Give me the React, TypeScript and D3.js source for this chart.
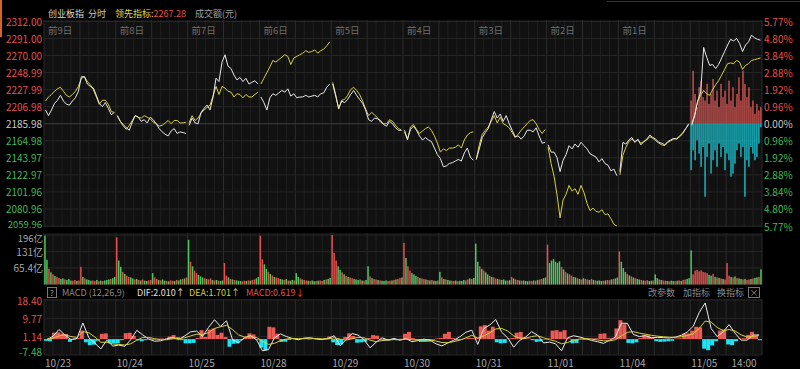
import * as d3 from 'd3';

// ---- axis / label data ----
const BASE = 2185.98;
const priceTicks = [2312.0, 2291.0, 2270.0, 2248.99, 2227.99, 2206.98, 2185.98, 2164.98, 2143.97, 2122.97, 2101.96, 2080.96, 2059.96];
const pctTicks = [5.77, 4.8, 3.84, 2.88, 1.92, 0.96, 0, -0.96, -1.92, -2.88, -3.84, -4.8, -5.77];
const dayLabels = ['前9日', '前8日', '前7日', '前6日', '前5日', '前4日', '前3日', '前2日', '前1日'];
const dateLabels = ['10/23', '10/24', '10/25', '10/28', '10/29', '10/30', '10/31', '11/01', '11/04', '11/05'];
const volTicks = [196, 131, 65.4];
const volTickLabels = ['196亿', '131亿', '65.4亿'];
const macdTicks = [18.4, 9.77, 1.14, -7.48];

// ---- index (white) and leading indicator (yellow), 24 samples per day ----
const indexByDay = [
  [2203, 2196, 2203, 2211, 2215, 2221, 2214, 2210, 2209, 2214, 2218, 2226, 2244, 2244, 2235, 2232, 2230, 2221, 2211, 2207, 2212, 2205, 2197, 2200],
  [2196, 2189, 2185, 2181, 2178, 2188, 2196, 2194, 2189, 2191, 2187, 2194, 2191, 2186, 2180, 2176, 2173, 2171, 2177, 2180, 2174, 2176, 2175, 2174],
  [2184, 2193, 2187, 2186, 2200, 2205, 2209, 2203, 2219, 2242, 2238, 2262, 2271, 2257, 2254, 2246, 2240, 2243, 2238, 2242, 2235, 2237, 2239, 2235],
  [2219, 2212, 2203, 2218, 2223, 2221, 2224, 2227, 2225, 2229, 2220, 2223, 2218, 2219, 2219, 2221, 2219, 2220, 2221, 2219, 2223, 2224, 2231, 2235],
  [2235, 2220, 2205, 2214, 2212, 2216, 2222, 2227, 2221, 2216, 2211, 2203, 2191, 2189, 2193, 2192, 2190, 2185, 2183, 2189, 2186, 2181, 2178, 2178],
  [2178, 2167, 2179, 2183, 2178, 2171, 2166, 2169, 2166, 2164, 2156, 2148, 2143, 2133, 2134, 2137, 2138, 2140, 2142, 2140, 2150, 2156, 2145, 2141],
  [2142, 2155, 2169, 2175, 2180, 2191, 2201, 2193, 2198, 2189, 2196, 2186, 2178, 2170, 2171, 2167, 2171, 2178, 2178, 2176, 2181, 2171, 2162, 2163],
  [2160, 2151, 2151, 2144, 2127, 2141, 2148, 2159, 2155, 2161, 2157, 2163, 2159, 2155, 2149, 2147, 2145, 2139, 2143, 2137, 2135, 2128, 2130, 2122],
  [2127, 2163, 2161, 2166, 2169, 2163, 2167, 2160, 2164, 2167, 2172, 2169, 2167, 2163, 2162, 2160, 2164, 2166, 2168, 2167, 2170, 2174, 2180, 2186],
  [2184, 2196, 2214, 2225, 2280, 2268, 2258, 2259, 2254, 2259, 2267, 2275, 2283, 2290, 2288, 2291, 2285, 2275, 2283, 2287, 2295, 2292, 2290, 2289],
];
const leadByDay = [
  [2214, 2219, 2222, 2226, 2229, 2231, 2226, 2221, 2219, 2222, 2226, 2232, 2242, 2244, 2238, 2234, 2228, 2219, 2210, 2215, 2215, 2210, 2201, 2200],
  [2196, 2189, 2183, 2179, 2184, 2190, 2196, 2194, 2193, 2196, 2194, 2192, 2188, 2186, 2183, 2184, 2187, 2190, 2186, 2190, 2190, 2187, 2187, 2188],
  [2187, 2196, 2190, 2193, 2199, 2203, 2206, 2209, 2220, 2232, 2222, 2232, 2230, 2226, 2225, 2219, 2223, 2222, 2218, 2222, 2219, 2219, 2222, 2225],
  [2235, 2242, 2249, 2256, 2264, 2262, 2265, 2268, 2271, 2269, 2259, 2267, 2269, 2271, 2273, 2276, 2274, 2275, 2277, 2273, 2276, 2278, 2282, 2287],
  [2237, 2222, 2204, 2215, 2216, 2221, 2228, 2231, 2227, 2222, 2214, 2204, 2196, 2200, 2197, 2193, 2188, 2186, 2186, 2191, 2189, 2184, 2180, 2178],
  [2176, 2166, 2182, 2185, 2179, 2174, 2177, 2180, 2182, 2178, 2171, 2162, 2151, 2155, 2153, 2156, 2156, 2157, 2160, 2156, 2166, 2172, 2175, 2176],
  [2142, 2160, 2173, 2178, 2182, 2189, 2196, 2187, 2194, 2186, 2184, 2181, 2175, 2169, 2173, 2178, 2182, 2186, 2190, 2191, 2186, 2179, 2174, 2179],
  [2157, 2137, 2121, 2098, 2070, 2092, 2099, 2110, 2103, 2106, 2099, 2110, 2101, 2088, 2079, 2082, 2078, 2077, 2080, 2074, 2075, 2069, 2062, 2060],
  [2123, 2147, 2157, 2164, 2167, 2164, 2166, 2162, 2164, 2166, 2170, 2168, 2165, 2162, 2160, 2159, 2163, 2165, 2167, 2168, 2171, 2175, 2180, 2185],
  [2186, 2197, 2214, 2221, 2227, 2223, 2221, 2228, 2234, 2239, 2246, 2253, 2260, 2261, 2260, 2264, 2262, 2253, 2258, 2260, 2264, 2265, 2266, 2267],
];

// ---- today's red / cyan strength bars (percent, 36 each) ----
const buyPct = [1.31, 2.99, 1.68, 0.94, 2.06, 2.43, 1.5, 1.31, 2.25, 1.12, 1.68, 2.53, 1.31, 1.87, 0.94, 2.25, 1.5, 1.87, 1.12, 2.43, 1.31, 2.06, 0.94, 1.68, 2.62, 1.31, 2.99, 2.25, 1.5, 2.06, 0.94, 1.31, 0.56, 1.12, 0.75, 0.94];
const sellPct = [2.62, 1.5, 2.06, 0.94, 1.68, 2.43, 1.31, 4.12, 1.87, 1.12, 2.81, 2.06, 1.5, 2.43, 1.12, 1.87, 1.31, 2.62, 1.68, 2.06, 2.99, 2.81, 2.25, 1.5, 1.12, 1.87, 1.31, 4.12, 2.06, 2.43, 1.31, 1.68, 2.06, 1.87, 1.12, 0.19];

// ---- turnover (亿), 36 bars per day, and up/down side ----
const volumeByDay = [
  [193, 98, 62, 48, 40, 34, 30, 26, 22, 24, 20, 18, 22, 16, 15, 18, 14, 16, 70, 30, 24, 20, 18, 15, 16, 14, 18, 13, 15, 14, 16, 18, 20, 22, 25, 30],
  [187, 95, 70, 50, 42, 35, 30, 28, 24, 20, 22, 18, 16, 20, 15, 14, 16, 18, 45, 28, 22, 18, 16, 20, 15, 14, 13, 16, 15, 14, 18, 16, 20, 22, 24, 28],
  [177, 90, 72, 55, 45, 38, 32, 28, 25, 22, 20, 24, 18, 16, 18, 15, 14, 16, 85, 35, 28, 22, 20, 18, 16, 15, 14, 13, 15, 14, 16, 15, 18, 20, 24, 30],
  [193, 100, 80, 62, 50, 42, 36, 30, 28, 25, 22, 20, 18, 22, 16, 15, 18, 16, 45, 30, 24, 20, 18, 16, 15, 14, 16, 13, 14, 15, 16, 14, 18, 20, 22, 26],
  [196, 125, 95, 72, 58, 48, 40, 34, 30, 28, 25, 22, 20, 18, 20, 16, 15, 18, 72, 32, 25, 22, 20, 18, 16, 15, 14, 16, 14, 15, 16, 18, 20, 22, 26, 28],
  [165, 105, 72, 55, 45, 40, 34, 30, 26, 24, 22, 20, 18, 16, 18, 15, 14, 16, 50, 28, 22, 20, 18, 16, 15, 14, 16, 13, 15, 14, 18, 16, 20, 24, 22, 26],
  [162, 90, 72, 62, 55, 48, 40, 34, 30, 28, 24, 22, 20, 18, 20, 16, 15, 17, 30, 24, 20, 18, 16, 15, 16, 14, 13, 15, 14, 16, 15, 18, 20, 22, 25, 28],
  [158, 85, 95, 100, 90, 85, 92, 70, 60, 50, 44, 40, 35, 30, 28, 25, 22, 20, 25, 22, 20, 18, 22, 18, 16, 15, 16, 14, 15, 16, 18, 17, 20, 22, 24, 28],
  [131, 90, 65, 50, 42, 36, 32, 28, 25, 22, 20, 18, 16, 15, 17, 14, 15, 16, 40, 25, 20, 18, 16, 15, 14, 13, 15, 14, 13, 15, 16, 14, 18, 20, 22, 25],
  [135, 40, 55, 58, 52, 56, 50, 48, 45, 38, 35, 42, 30, 28, 26, 24, 22, 20, 85, 35, 30, 28, 32, 26, 24, 22, 20, 22, 18, 20, 22, 24, 26, 28, 30, 60],
];
const volumeSide = [
  'ggrgrgrrggrgggrrgr' + 'rgrgggrrgrgrgggrgg',
  'rggrgrrggrgrgrggrr' + 'grrgrggrgrrgrggrgr',
  'grgrrgggrgrrgrgrgg' + 'rrgrgrgggrrgrgrrgg',
  'rrggrgrgrrggrgrggr' + 'ggrgrrgrggrgrrgrgg',
  'rrrggrgrgrrgggrgrg' + 'grgrrgrgggrrgrgrrg',
  'rgrrgggrgrrgrgrggr' + 'grgrggrrgrgggrrgrg',
  'ggrgrggrgrrgrgggrg' + 'rgrrgrgggrrgrgrrgg',
  'rggggggrgrgrrggrgr' + 'grrgrgrgggrgrrgrgg',
  'rgggrgrgrggrgrrggr' + 'ggrgrrgrggrgrgrrgg',
  'grrrrrrrrggrgrgrgr' + 'rrgrgrggrgrrgrggrg',
];

// ---- MACD: DIF / DEA (12 per day) and histogram (18 per day) ----
const dif = [
  -0.2, 1.3, 4.5, 1.9, -0.2, 0.3, 7.6, 0.6, -1.9, -4.6, -0.5, -3.3,
  -2.8, -3.4, -0.3, 4.1, 2.0, 0.0, -1.0, -0.8, 0.2, 0.8, -0.2, 1.5,
  3.4, 3.8, 1.3, 5.5, 9.1, 6.0, 8.6, -0.2, -1.7, 0.6, 1.7, -0.2,
  -5.5, -5.0, 0.5, 2.5, 1.2, 0.3, -0.3, 0.5, 0.6, 0.0, -0.2, 0.3,
  1.6, -3.0, -0.2, 2.6, 1.9, -0.3, -4.1, -1.5, 0.6, -0.4, 0.3, -0.5,
  0.2, -1.2, -0.7, 0.0, -0.5, -2.2, -3.2, -1.8, -0.5, 1.1, 3.2, 4.2,
  -2.5, 5.0, 6.6, 9.2, 3.2, 0.6, -3.8, -0.6, 1.0, 3.5, 1.8, -1.8,
  -1.4, -2.2, -5.5, 0.6, 1.6, 1.0, 0.2, -0.6, -1.2, -2.0, -0.6, 1.0,
  7.5, 7.4, 2.2, 1.2, 1.6, 0.6, 0.8, 0.7, 0.5, 0.9, 1.8, 3.3,
  6.0, 12.5, 17.0, 5.0, 1.2, 3.4, 6.8, 2.8, -0.5, -0.5, 1.9, 2.0,
];
const dea = [
  0.0, 0.4, 1.5, 2.0, 1.2, 0.8, 3.5, 3.0, 1.0, -1.5, -1.5, -2.3,
  -2.5, -2.8, -2.2, -0.5, 0.8, 0.8, 0.2, -0.3, -0.3, 0.2, 0.3, 0.6,
  1.5, 2.3, 2.2, 3.0, 5.0, 5.8, 6.5, 4.5, 2.0, 1.0, 1.0, 0.8,
  -1.0, -2.5, -2.0, -0.8, 0.0, 0.3, 0.2, 0.2, 0.4, 0.3, 0.1, 0.1,
  0.6, 0.0, -0.5, 0.2, 0.8, 0.6, -0.5, -1.2, -0.7, -0.5, -0.2, -0.3,
  0.0, -0.3, -0.5, -0.4, -0.4, -0.9, -1.6, -1.7, -1.2, -0.5, 0.6, 1.8,
  0.5, 1.5, 3.0, 4.8, 5.0, 3.8, 1.5, 0.5, 0.4, 1.2, 1.6, 0.6,
  -0.3, -1.0, -2.2, -1.6, -0.6, 0.0, 0.2, 0.0, -0.4, -0.8, -0.8, -0.3,
  1.5, 3.2, 3.5, 2.8, 2.3, 1.8, 1.4, 1.1, 0.9, 0.9, 1.1, 1.7,
  2.5, 5.0, 8.5, 8.0, 5.5, 4.0, 4.5, 3.8, 2.0, 1.0, 1.3, 1.7,
];
const macdHist = [
  -0.8, -1.0, 3.0, 3.2, 2.6, 2.4, -1.3, -0.3, 0.5, 4.0, -1.5, -2.8, -2.6, -0.8, 2.5, 2.7, -1.8, -2.0,
  -2.0, -0.5, 2.8, 3.0, 1.5, -0.6, -1.0, -0.5, 0.3, -0.3, 0.2, 0.3, -0.2, 1.2, 1.9, 1.0, -0.5, -2.0,
  -2.0, -1.8, 0.5, 4.2, 1.0, 4.5, 5.0, 2.0, 3.0, 1.0, -3.6, -2.2, -2.0, -0.5, 0.8, 2.7, 2.2, -0.3,
  -4.0, -5.2, 5.8, 5.5, 2.5, -1.3, -1.2, -0.4, 0.3, -0.3, 0.2, 0.4, -0.2, 0.3, 0.2, -0.3, 0.4, 1.2,
  -1.5, -2.8, -2.5, 1.0, 2.7, 1.5, -1.7, -1.5, -1.2, 0.5, 1.9, 1.6, -0.3, -0.5, -0.5, -0.4, -0.5, 0.2,
  2.5, 3.4, 0.5, -0.4, -1.3, -1.3, -1.2, -0.3, 0.3, 0.5, 2.5, 3.4, 0.5, -0.5, -0.4, 0.3, 0.6, 0.4,
  0.5, 6.0, 6.6, 4.0, 5.8, -1.5, -2.0, -1.8, 0.3, 0.5, 3.0, 3.4, 0.8, 0.3, -0.5, -1.3, -1.1, -0.2,
  0.3, 4.0, 4.2, 3.5, 4.2, 0.4, -2.0, -1.8, 0.2, -0.3, 0.2, 0.3, 0.4, 2.5, 2.7, 0.5, 0.3, 5.0,
  8.9, 7.0, -1.8, -2.0, -1.5, 0.5, 1.9, 1.8, 0.8, -1.0, -1.3, -1.2, -1.0, -0.8, 0.3, 0.4, 2.5, 2.7,
  4.0, 5.8, 5.5, -4.5, -5.2, -3.0, -1.0, 4.0, 4.5, -2.5, -2.8, -1.0, 0.3, 0.4, 2.0, 3.4, 1.5, -0.5,
];

const RED = '#e5504c';
const GREEN = '#3dbb5a';
const FONT = "'Noto Sans CJK SC', 'Noto Sans', sans-serif";

export default function App() {
  const W = 800, H = 369;
  const L = 44, R = 762;
  const x = d3.scaleLinear().domain([0, 10]).range([L, R]);
  const yPrice = d3.scaleLinear().domain([2059.96, 2312]).range([226, 21.5]);
  const yPct = d3.scaleLinear().domain([-5.77, 5.77]).range([226, 21.5]);
  const yVol = d3.scaleLinear().domain([0, 196]).range([284.5, 235]);
  const yMacd = d3.scaleLinear().domain([-7.48, 18.4]).range([355, 300]);

  const dayLine = d3.line<number>()
    .x((_, k) => x((k + 0.5) / 24))
    .y(v => yPrice(v));
  const macdLine = d3.line<number>()
    .x((_, i) => x((i + 0.5) / 12))
    .y(v => yMacd(v));

  const vGrid = d3.range(0, 81).map(i => ({ t: i / 8, major: i % 4 === 0 }));
  const tickColor = (v: number) => (v > BASE + 0.001 ? RED : v < BASE - 0.001 ? GREEN : '#c8c8c8');
  const pctColor = (v: number) => (v > 0 ? RED : v < 0 ? GREEN : '#c8c8c8');

  const grid = (y0: number, y1: number) =>
    vGrid.map((g, i) => (
      <line key={i} x1={x(g.t)} x2={x(g.t)} y1={y0} y2={y1}
        stroke={g.major ? '#2c2c2c' : '#1f1f1f'} strokeWidth={1} />
    ));

  const volW = x(1 / 36) - x(0);
  const strW = x(1 / 36) - x(0);
  const histW = x(1 / 18) - x(0);

  return (
    <svg width={W} height={H} style={{ position: 'absolute', left: 0, top: 0, background: '#000' }}
      fontFamily={FONT}>
      <rect x={0} y={0} width={W} height={H} fill="#000" />
      <rect x={0} y={0} width={2} height={37} fill="#d8602c" />
      <line x1={607} x2={800} y1={1.5} y2={1.5} stroke="#333" />

      {/* header */}
      <g fontSize={9} dominantBaseline="central">
        <text x={48} y={13} fill="#d8d8c0">创业板指</text>
        <text x={88} y={13} fill="#c8c8c8">分时</text>
        <text x={115} y={13} fill="#e0dc4a">领先指标:<tspan fill={RED}>2267.28</tspan></text>
        <text x={195} y={13} fill="#a0a0a0">成交额(元)</text>
      </g>

      {/* main panel */}
      <rect x={L} y={20} width={R - L} height={207} fill="#111" />
      {grid(20, 227)}
      {priceTicks.map((p, i) => (
        <line key={i} x1={L} x2={R} y1={yPrice(p)} y2={yPrice(p)}
          stroke={p === BASE ? '#3c3c3c' : '#262626'} />
      ))}
      {dayLabels.map((d, i) => (
        <text key={d} x={x(i) + 4} y={30} fontSize={9.5} fill="#6e6e6e" dominantBaseline="central">{d}</text>
      ))}

      {buyPct.map((v, k) => (
        <rect key={'b' + k} x={x(9 + k / 36) + 0.3} width={strW - 0.8}
          y={yPct(v)} height={yPct(0) - yPct(v)} fill="#ee5f5b" />
      ))}
      {sellPct.map((v, k) => (
        <rect key={'s' + k} x={x(9 + k / 36) + 0.3} width={strW - 0.8}
          y={yPct(0)} height={yPct(-v) - yPct(0)} fill="#1cdcec" />
      ))}

      {leadByDay.map((d, i) => (
        <path key={'l' + i} d={dayLine(d) ?? ''} transform={`translate(${x(i) - x(0)},0)`}
          fill="none" stroke="#d6cf3c" strokeWidth={1} />
      ))}
      {indexByDay.map((d, i) => (
        <path key={'w' + i} d={dayLine(d) ?? ''} transform={`translate(${x(i) - x(0)},0)`}
          fill="none" stroke="#e8e8e8" strokeWidth={1} />
      ))}

      <g fontSize={10} dominantBaseline="central">
        {priceTicks.map((p, i) => {
          const last = i === priceTicks.length - 1;
          return (
            <text key={i} x={42} y={last ? yPrice(p) - 2 : yPrice(p)} fontSize={last ? 9.5 : 10}
              textAnchor="end" fill={tickColor(p)}>{p.toFixed(2)}</text>
          );
        })}
        {pctTicks.map((p, i) => (
          <text key={i} x={764} y={yPct(p)} fill={pctColor(p)}>{Math.abs(p).toFixed(2)}%</text>
        ))}
      </g>

      {/* volume panel */}
      <rect x={L} y={233} width={R - L} height={52} fill="#111" />
      {grid(233, 285)}
      {volTicks.map((v, i) => (
        <line key={i} x1={L} x2={R} y1={yVol(v)} y2={yVol(v)} stroke="#262626" />
      ))}
      {volumeByDay.map((day, d) => day.map((v, k) => (
        <rect key={d + '-' + k} x={x(d + k / 36) + 0.2} width={volW - 0.5}
          y={yVol(v)} height={yVol(0) - yVol(v)}
          fill={volumeSide[d][k] === 'r' ? RED : '#4cc860'} />
      )))}
      <g dominantBaseline="central" fill="#a8a8a8">
        {volTicks.map((v, i) => (
          <text key={i} x={43} y={i === 0 ? yVol(v) + 2.5 : yVol(v)} fontSize={i === 0 ? 9.5 : 10}
            textAnchor="end">{volTickLabels[i]}</text>
        ))}
      </g>

      {/* MACD header */}
      <g fontSize={9} dominantBaseline="central">
        <rect x={47.5} y={287.5} width={9} height={10} fill="none" stroke="#777" />
        <text x={52} y={292.5} textAnchor="middle" fill="#aaa" fontSize={8}>?</text>
        <text x={62} y={292.5} fill="#8a8a8a">MACD (12,26,9)</text>
        <text x={137} y={292.5} fill="#e0e0e0">DIF:2.010↑</text>
        <text x={189} y={292.5} fill="#d6cf3c">DEA:1.701↑</text>
        <text x={246} y={292.5} fill={RED}>MACD:0.619↓</text>
        <text x={648} y={292.5} fill="#8a8a8a">改参数</text>
        <text x={683} y={292.5} fill="#8a8a8a">加指标</text>
        <text x={717} y={292.5} fill="#8a8a8a">换指标</text>
        <rect x={748.5} y={287.5} width={11} height={10} fill="none" stroke="#777" />
        <text x={754} y={292.5} textAnchor="middle" fill="#999" fontSize={9}>×</text>
      </g>

      {/* MACD panel */}
      <rect x={L} y={299} width={R - L} height={56} fill="#111" />
      {grid(299, 355)}
      {macdTicks.map((v, i) => (
        <line key={i} x1={L} x2={R} y1={yMacd(v)} y2={yMacd(v)} stroke="#262626" />
      ))}
      {macdHist.map((v, i) => (
        <rect key={i} x={x(i / 18)} width={histW}
          y={v >= 0 ? yMacd(v) : yMacd(0)} height={Math.abs(yMacd(v) - yMacd(0))}
          fill={v >= 0 ? '#ec5a55' : '#1ee4f2'} />
      ))}
      <path d={macdLine(dif) ?? ''} fill="none" stroke="#e8e8e8" strokeWidth={1} />
      <path d={macdLine(dea) ?? ''} fill="none" stroke="#d6cf3c" strokeWidth={1} />
      <g fontSize={10} dominantBaseline="central">
        {macdTicks.map((v, i) => (
          <text key={i} x={42} y={Math.min(yMacd(v), 351)} textAnchor="end"
            fill={v > 0 ? RED : GREEN}>{v.toFixed(2)}</text>
        ))}
      </g>

      {/* time axis */}
      <g fontSize={10} dominantBaseline="central" fill="#a8a8a8">
        {dateLabels.map((d, i) => (
          <text key={d} x={x(i) + 1} y={362}>{d}</text>
        ))}
        <text x={x(9.75)} y={362} textAnchor="middle">14:00</text>
      </g>
    </svg>
  );
}
